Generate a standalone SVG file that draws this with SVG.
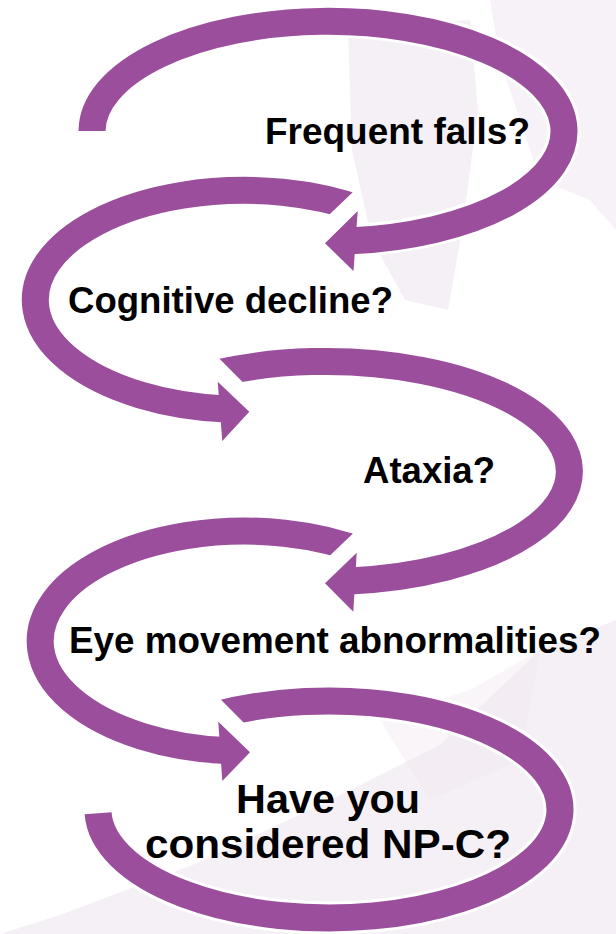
<svg xmlns="http://www.w3.org/2000/svg" width="616" height="934" viewBox="0 0 616 934">
<style>
.halo{fill:none;stroke:#ffffff;stroke-width:33;stroke-linecap:butt}
.band{fill:none;stroke:#9b4e9b;stroke-width:27;stroke-linecap:butt}
.headhalo{fill:#ffffff;stroke:#ffffff;stroke-width:6;stroke-linejoin:miter}
.head{fill:#9b4e9b}
.lbl{font-family:"Liberation Sans",Arial,sans-serif;font-weight:bold;fill:#000000}
.wm{fill:#efe6ef}
</style>
<defs>
<clipPath id="cut2"><path clip-rule="evenodd" d="M0 0H616V934H0Z M375 171 L310 233 L360 270 L420 190Z"/></clipPath>
<clipPath id="cut3"><path clip-rule="evenodd" d="M0 0H616V934H0Z M198.9 338 L263.4 403 L200 420 L160 360Z"/></clipPath>
<clipPath id="cut4"><path clip-rule="evenodd" d="M0 0H616V934H0Z M375 512.5 L310 574.5 L360 611.5 L420 531.5Z"/></clipPath>
<clipPath id="cut5"><path clip-rule="evenodd" d="M0 0H616V934H0Z M198.9 677.5 L263.4 742.5 L200 759.5 L160 699.5Z"/></clipPath>
</defs>
<rect width="616" height="934" fill="#ffffff"/>
<g id="watermark">
<path class="wm" opacity="0.6" d="M348 30 L470 20 L478 110 L462 230 L448 310 L405 300 L372 240 L352 150Z"/>
<path class="wm" opacity="0.5" d="M490 0 L616 0 L616 230 L590 200 L540 180 L520 120 L500 60Z"/>
<path class="wm" opacity="0.6" d="M0 934 L60 915 L200 862 L330 800 L440 745 L540 650 L616 620 L616 934Z"/>
<path class="wm" opacity="0.4" d="M380 720 L470 690 L540 650 L520 760 L430 800Z"/>
</g>
<g id="connectors">
<g id="arrow2" clip-path="url(#cut2)">
<path class="halo" d="M365 210.8 A208.5 109.5 0 1 0 218 408.6"/>
<polygon class="headhalo" points="217.7,381.7 249.3,411.7 222.3,441"/>
<path class="band" d="M365 210.8 A208.5 109.5 0 1 0 226 409"/>
<polygon class="head" points="217.7,381.7 249.3,411.7 222.3,441"/>
</g>
<g id="arrow1">
<path class="halo" d="M92 131 A236 110 0 1 1 357 240.2"/>
<polygon class="headhalo" points="357.7,211 325,243.3 353.5,271"/>
<path class="band" d="M92 131 A236 110 0 1 1 351 240.8"/>
<polygon class="head" points="357.7,211 325,243.3 353.5,271"/>
</g>
<g id="arrow4" clip-path="url(#cut4)">
<path class="halo" d="M365 552.4 A204 110 0 1 0 218 750.1"/>
<polygon class="headhalo" points="218.3,721.7 250,752.3 222.3,781"/>
<path class="band" d="M365 552.4 A204 110 0 1 0 226 750.6"/>
<polygon class="head" points="218.3,721.7 250,752.3 222.3,781"/>
</g>
<g id="arrow3" clip-path="url(#cut3)">
<path class="halo" d="M215 373.5 A243.5 110 0 1 1 356 580.3"/>
<polygon class="headhalo" points="356.7,552.7 325,583.3 353.3,611.7"/>
<path class="band" d="M215 373.5 A243.5 110 0 1 1 350 580.9"/>
<polygon class="head" points="356.7,552.7 325,583.3 353.3,611.7"/>
</g>
<g id="arrow5" clip-path="url(#cut5)">
<path class="halo" d="M215 715.1 A231 108.5 0 1 1 98.1 813.3"/>
<path class="band" d="M215 715.1 A231 108.5 0 1 1 98.1 813.3"/>
</g>
</g>
<g id="node-falls"><text class="lbl" x="265" y="144" font-size="37" textLength="265" lengthAdjust="spacingAndGlyphs">Frequent falls?</text></g>
<g id="node-cognitive"><text class="lbl" x="68" y="313" font-size="37" textLength="325" lengthAdjust="spacingAndGlyphs">Cognitive decline?</text></g>
<g id="node-ataxia"><text class="lbl" x="363" y="483" font-size="37" textLength="132" lengthAdjust="spacingAndGlyphs">Ataxia?</text></g>
<g id="node-eye"><text class="lbl" x="69" y="653" font-size="37" textLength="532" lengthAdjust="spacingAndGlyphs">Eye movement abnormalities?</text></g>
<g id="node-npc">
<text class="lbl" x="328" y="813" font-size="41" text-anchor="middle" textLength="184" lengthAdjust="spacingAndGlyphs">Have you</text>
<text class="lbl" x="328" y="858" font-size="41" text-anchor="middle" textLength="366" lengthAdjust="spacingAndGlyphs">considered NP-C?</text>
</g>
</svg>
